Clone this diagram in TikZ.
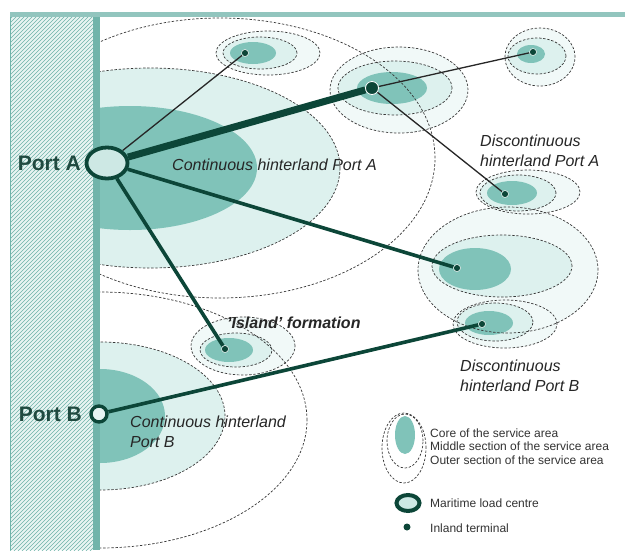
\documentclass[tikz,border=0pt]{standalone}
\usepackage{fontspec}
\setmainfont{Liberation Sans}
\usetikzlibrary{shapes.geometric}
\definecolor{corecol}{RGB}{128,195,185}
\definecolor{midcol}{RGB}{221,241,238}
\definecolor{outcol}{RGB}{241,249,248}
\definecolor{dkgreen}{RGB}{12,70,56}
\definecolor{lblgreen}{RGB}{32,74,64}
\definecolor{hatchcol}{RGB}{110,178,168}
\definecolor{stripbg}{RGB}{232,244,242}
\definecolor{barcol}{RGB}{112,180,170}
\definecolor{portfill}{RGB}{205,232,228}
\pgfdeclarelayer{fg}
\pgfsetlayers{main,fg}
\begin{document}
\begin{tikzpicture}[x=1pt,y=-1pt,
  dashln/.style={draw=black!78, line width=0.7pt, dash pattern=on 2.4pt off 1.7pt},
  term/.style={circle, fill=dkgreen, draw=white, line width=0.5pt, inner sep=0pt, minimum size=7pt},
  hubterm/.style={term, minimum size=13pt, line width=0.8pt},
  linkthin/.style={draw=black!85, line width=1.3pt},
  linkmid/.style={draw=dkgreen, line width=3.6pt},
  linkbig/.style={draw=dkgreen, line width=7pt},
  italbl/.style={font=\itshape\fontsize{16}{19.5}\selectfont, text=black!85, inner sep=0pt, align=left, anchor=west},
  portlbl/.style={font=\bfseries\fontsize{21}{23}\selectfont, text=lblgreen, inner sep=0pt, anchor=east},
  legtxt/.style={font=\fontsize{12}{14}\selectfont, text=black!80, inner sep=0pt, anchor=west},
]
\useasboundingbox (0,0) rectangle (625,550);
\fill[white] (0,0) rectangle (625,550);

\begin{scope}
\clip (100,16.5) rectangle (625,550);
% ---- light fills (middle sections)
\fill[midcol] (150,168) ellipse [x radius=190pt, y radius=100pt];
\fill[midcol] (100,416) ellipse [x radius=125pt, y radius=74pt];
\foreach \cx/\cy/\rx/\ry in {268/53/52/22, 399/90/69/43, 540/57/35/29, 528/192/52/22, 508/270/90/63, 505/324/52/24, 243/346/52/29}
  \fill[outcol] (\cx,\cy) ellipse [x radius=\rx pt, y radius=\ry pt];
\foreach \cx/\cy/\rx/\ry in {260/53/37/16, 395/88/57/27, 537/56/29/18, 518/193/38/18, 502/266/70/31, 495/322/38/19, 236/350/36/17}
  \fill[midcol] (\cx,\cy) ellipse [x radius=\rx pt, y radius=\ry pt];

% ---- cores
\fill[corecol] (130,168) ellipse [x radius=127pt, y radius=62pt];
\fill[corecol] (100,416) ellipse [x radius=65pt, y radius=47pt];
\foreach \cx/\cy/\rx/\ry in {253/53/23/11, 392/88/35/16, 531/54/14/9, 512/193/25/12, 475/269/36/21, 489/323/24/12, 229/350/24/12}
  \fill[corecol] (\cx,\cy) ellipse [x radius=\rx pt, y radius=\ry pt];

% ---- dashed outlines
\draw[dashln] (150,168) ellipse [x radius=190pt, y radius=100pt];
\draw[dashln] (220,158) ellipse [x radius=215pt, y radius=140pt];
\draw[dashln] (100,416) ellipse [x radius=125pt, y radius=74pt];
\draw[dashln] (100,420) ellipse [x radius=207pt, y radius=128pt];
\foreach \cx/\cy/\rx/\ry in {268/53/52/22, 399/90/69/43, 540/57/35/29, 528/192/52/22, 508/270/90/63, 505/324/52/24, 243/346/52/29,
  260/53/37/16, 395/88/57/27, 537/56/29/18, 518/193/38/18, 502/266/70/31, 495/322/38/19, 236/350/36/17}
  \draw[dashln] (\cx,\cy) ellipse [x radius=\rx pt, y radius=\ry pt];
\end{scope}

% ---- coast strip
\fill[stripbg] (10,15) rectangle (93,550);
\begin{scope}
  \clip (10,15) rectangle (93,550);
  \foreach \k in {15,19,...,660}
    \draw[hatchcol, line width=0.55pt] (10,\k) -- ++(100,-100);
\end{scope}
\fill[barcol] (93,15) rectangle (100,550);
\draw[barcol, line width=1.2pt] (10.6,15) -- (10.6,550);
\fill[hatchcol!75] (10,12) rectangle (625,16.5);

% ---- nodes
\begin{pgfonlayer}{fg}
\node[ellipse, draw=dkgreen, line width=3.8pt, fill=portfill, minimum width=41pt, minimum height=31pt, inner sep=0pt] (PA) at (107,163) {};
\node[circle, draw=dkgreen, line width=3.4pt, fill=portfill!50!white, minimum size=16pt, inner sep=0pt] (PB) at (99,414) {};
\node[term] (T1) at (245,53) {};
\node[hubterm] (T2) at (372,88) {};
\node[term] (T3) at (533,52) {};
\node[term] (T4) at (505,194) {};
\node[term] (T5) at (457,268) {};
\node[term] (T6) at (482,324) {};
\node[term] (T7) at (225,349) {};
\end{pgfonlayer}

% ---- links
\draw[linkthin] (PA) -- (T1);
\draw[linkbig] (PA) -- (T2);
\draw[linkthin] (T2) -- (T3);
\draw[linkthin] (T2) -- (T4);
\draw[linkmid] (PA) -- (T5);
\draw[linkmid] (PA) -- (T7);
\draw[linkmid] (PB) -- (T6);

% ---- labels
\node[portlbl] (lPA) at (81,163) {Port A};
\node[portlbl] (lPB) at (82,414) {Port B};
\node[italbl] (lCA) at (172,165) {Continuous hinterland Port A};
\node[italbl] (lDA) at (480,151) {Discontinuous\\hinterland Port A};
\node[italbl] (lDB) at (460,376) {Discontinuous\\hinterland Port B};
\node[italbl] (lCB) at (130,432) {Continuous hinterland\\Port B};
\node[italbl, font=\bfseries\itshape\fontsize{16}{19}\selectfont] (lIs) at (227,323) {'Island' formation};

% ---- legend
\draw[dashln] (404,448) ellipse [x radius=22pt, y radius=35pt];
\draw[dashln] (405,441) ellipse [x radius=18pt, y radius=27pt];
\fill[corecol] (405,435) ellipse [x radius=10pt, y radius=19pt];
\node[legtxt] (lg1) at (430,433) {Core of the service area};
\node[legtxt] (lg2) at (430,446.5) {Middle section of the service area};
\node[legtxt] (lg3) at (430,460) {Outer section of the service area};
\node[ellipse, draw=dkgreen, line width=4pt, fill=portfill, minimum width=23pt, minimum height=16pt, inner sep=0pt] (LP) at (408,503) {};
\node[legtxt] (lg4) at (430,503) {Maritime load centre};
\node[circle, fill=dkgreen, inner sep=0pt, minimum size=7pt] (LT) at (407,527) {};
\node[legtxt] (lg5) at (430,528) {Inland terminal};
\end{tikzpicture}
\end{document}
